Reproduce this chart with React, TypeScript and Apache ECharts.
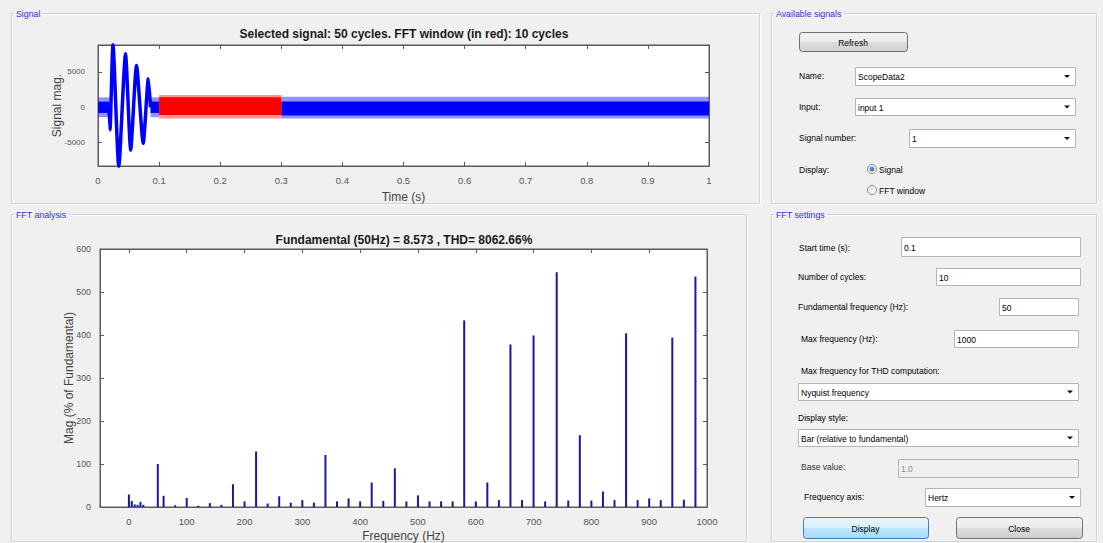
import React, { useEffect, useRef } from "react";
import * as echarts from "echarts";

// ---- Signal data ----
const transientTime = [0.018, 0.0196, 0.0245, 0.034, 0.045, 0.0535, 0.063, 0.074, 0.0824, 0.086];
const transientValue = [0, -3200, 8870, -8400, 7560, -6060, 5900, -5100, 4040, 0];
// [t0, t1, outerLow, outerHigh, innerLow, innerHigh]
const blueBands = [
  [0, 0.019, -1400, 1400, -800, 800],
  [0.086, 0.1, -1400, 1400, -800, 800],
  [0.3, 1.0, -1600, 1500, -1150, 800],
];
const redBands = [[0.1, 0.3, -1600, 1750, -1100, 1400]];

// ---- FFT data ----
const fftFreq = [0, 5, 10, 15, 20, 25, 50, 60, 80, 100, 120, 140, 160, 180, 200, 220, 240, 260, 280, 300, 320, 340, 360, 380, 400, 420, 440, 460, 480, 500, 520, 540, 560, 580, 600, 620, 640, 660, 680, 700, 720, 740, 760, 780, 800, 820, 840, 860, 880, 900, 920, 940, 960, 980];
const fftMag = [29, 14, 6, 5, 12, 5, 100, 26, 4, 21, 3, 9, 5, 53, 13, 129, 8, 25, 10, 16, 10, 121, 13, 20, 13, 57, 14, 90, 13, 27, 13, 13, 13, 434, 13, 57, 16, 378, 16, 399, 13, 546, 15, 167, 15, 36, 16, 404, 16, 20, 16, 394, 17, 536];

const signalTitle = "Selected signal: 50 cycles. FFT window (in red): 10 cycles";
const fftTitle = "Fundamental (50Hz) = 8.573 , THD= 8062.66%";

const F = "'Liberation Sans', Arial, sans-serif";
const BG = "#f0f0f0";

function txt(x: number, y: number, s: string, extra: any = {}) {
  return {
    type: "text",
    x,
    y,
    silent: true,
    style: { text: s, fontSize: 8.5, fontFamily: F, fill: "#000", verticalAlign: "middle", align: "left", ...extra },
  };
}
function panel(x: number, y: number, w: number, h: number, label: string) {
  return [
    { type: "rect", silent: true, shape: { x: x + 1.5, y: y + 1.5, width: w, height: h }, style: { fill: "none", stroke: "#ffffff", lineWidth: 1 } },
    { type: "rect", silent: true, shape: { x: x + 0.5, y: y + 0.5, width: w, height: h }, style: { fill: "none", stroke: "#d0d0d0", lineWidth: 1 } },
    {
      type: "text",
      silent: true,
      x: x + 3,
      y: y + 1,
      style: { text: label, fontSize: 8.8, fontFamily: F, fill: "#3434d8", backgroundColor: BG, padding: [0, 2], verticalAlign: "middle" },
    },
  ];
}
function box(x1: number, y1: number, x2: number, y2: number, value: string, disabled = false) {
  return [
    { type: "rect", silent: true, shape: { x: x1 + 0.5, y: y1 + 0.5, width: x2 - x1, height: y2 - y1 }, style: { fill: disabled ? "#f0f0f0" : "#ffffff", stroke: "#b5b5b5", lineWidth: 1 } },
    txt(x1 + 3, (y1 + y2) / 2 + 1, value, { fill: disabled ? "#8a8a8a" : "#000" }),
  ];
}
function combo(x1: number, y1: number, x2: number, y2: number, value: string) {
  const cy = (y1 + y2) / 2;
  return [
    ...box(x1, y1, x2, y2, value),
    { type: "polygon", silent: true, shape: { points: [[x2 - 11, cy - 1], [x2 - 5, cy - 1], [x2 - 8, cy + 2]] }, style: { fill: "#111" } },
  ];
}
function button(x1: number, y1: number, x2: number, y2: number, label: string, blue = false) {
  return [
    {
      type: "rect",
      silent: true,
      shape: { x: x1 + 0.5, y: y1 + 0.5, width: x2 - x1, height: y2 - y1, r: 3 },
      style: {
        fill: {
          type: "linear", x: 0, y: 0, x2: 0, y2: 1,
          colorStops: blue
            ? [{ offset: 0, color: "#eaf6fd" }, { offset: 0.5, color: "#d9f0fc" }, { offset: 0.51, color: "#bee6fd" }, { offset: 1, color: "#a7d9f5" }]
            : [{ offset: 0, color: "#f2f2f2" }, { offset: 0.5, color: "#ebebeb" }, { offset: 0.51, color: "#dddddd" }, { offset: 1, color: "#cfcfcf" }],
        },
        stroke: blue ? "#3c7fb1" : "#707070",
        lineWidth: 1,
      },
    },
    txt((x1 + x2) / 2, (y1 + y2) / 2 + 1, label, { align: "center" }),
  ];
}
function radio(x: number, y: number, label: string, checked: boolean) {
  const els: any[] = [
    {
      type: "circle", silent: true, shape: { cx: x, cy: y, r: 4.5 },
      style: { fill: { type: "linear", x: 0, y: 0, x2: 1, y2: 1, colorStops: [{ offset: 0, color: "#e6e6e6" }, { offset: 1, color: "#ffffff" }] }, stroke: "#8e8f8f", lineWidth: 1 },
    },
  ];
  if (checked) {
    els.push({
      type: "circle", silent: true, shape: { cx: x, cy: y, r: 2.5 },
      style: { fill: { type: "linear", x: 0, y: 0, x2: 1, y2: 1, colorStops: [{ offset: 0, color: "#7fb2e8" }, { offset: 1, color: "#1f5ba8" }] } },
    });
  }
  els.push(txt(x + 7, y + 1, label));
  return els;
}

function bandSeries(name: string, bands: number[][], outerColor: string, innerColor: string) {
  return {
    type: "custom",
    name,
    xAxisIndex: 0,
    yAxisIndex: 0,
    data: bands,
    encode: { x: [0, 1], y: [2, 3] },
    z: 3,
    renderItem: (params: any, api: any) => {
      const t0 = api.value(0), t1 = api.value(1);
      const oLo = api.value(2), oHi = api.value(3), iLo = api.value(4), iHi = api.value(5);
      const a = api.coord([t0, oHi]), b = api.coord([t1, oLo]);
      const c = api.coord([t0, iHi]), d = api.coord([t1, iLo]);
      return {
        type: "group",
        children: [
          { type: "rect", shape: { x: a[0], y: a[1], width: b[0] - a[0], height: b[1] - a[1] }, style: { fill: outerColor } },
          { type: "rect", shape: { x: c[0], y: c[1], width: d[0] - c[0], height: d[1] - c[1] }, style: { fill: innerColor } },
        ],
      };
    },
  };
}

const plain = (v: number) => String(v);
const axisCommon = {
  axisLine: { show: true, onZero: false, lineStyle: { color: "#5a5a5a", width: 1 } },
  axisTick: { show: true, inside: true, length: 4, lineStyle: { color: "#5a5a5a" } },
  splitLine: { show: false },
};
const labelStyle = { fontSize: 9.5, color: "#555", fontFamily: F, formatter: plain };
const nameStyle = { fontSize: 12, color: "#444", fontFamily: F };

export default function App() {
  const ref = useRef<HTMLDivElement>(null);
  useEffect(() => {
    if (!ref.current) return;
    const chart = echarts.init(ref.current, undefined, { renderer: "svg" });

    const graphic: any[] = [
      ...panel(11, 13, 748, 190, "Signal"),
      ...panel(771, 13, 325, 190, "Available signals"),
      ...panel(11, 214, 735, 327, "FFT analysis"),
      ...panel(771, 214, 325, 327, "FFT settings"),
      // Available signals
      ...button(799, 32, 907, 51, "Refresh"),
      txt(799, 76, "Name:"),
      ...combo(855, 67, 1075, 85, "ScopeData2"),
      txt(799, 107, "Input:"),
      ...combo(855, 98, 1075, 115, "input 1"),
      txt(799, 138, "Signal number:"),
      ...combo(909, 129, 1075, 147, "1"),
      txt(799, 170, "Display:"),
      ...radio(872, 169, "Signal", true),
      ...radio(872, 190, "FFT window", false),
      // FFT settings
      txt(799, 248, "Start time (s):"),
      ...box(901, 237, 1080, 256, "0.1"),
      txt(798, 277, "Number of cycles:"),
      ...box(936, 268, 1080, 285, "10"),
      txt(798, 307, "Fundamental frequency (Hz):"),
      ...box(999, 298, 1078, 315, "50"),
      txt(801, 339, "Max frequency (Hz):"),
      ...box(954, 330, 1078, 347, "1000"),
      txt(801, 371, "Max frequency for THD computation:"),
      ...combo(798, 383, 1078, 400, "Nyquist frequency"),
      txt(798, 418, "Display style:"),
      ...combo(798, 429, 1078, 446, "Bar (relative to fundamental)"),
      txt(801, 467, "Base value:", { fill: "#333" }),
      ...box(898, 459, 1078, 477, "1.0", true),
      txt(804, 497, "Frequency axis:"),
      ...combo(925, 488, 1080, 506, "Hertz"),
      ...button(803, 517, 928, 538, "Display", true),
      ...button(956, 517, 1082, 538, "Close"),
    ];

    const option: any = {
      animation: false,
      backgroundColor: BG,
      title: [
        { text: signalTitle, left: 404, top: 28, textAlign: "center", padding: 0, textStyle: { fontSize: 12, fontWeight: "bold", color: "#1a1a1a", fontFamily: F } },
        { text: fftTitle, left: 404, top: 234, textAlign: "center", padding: 0, textStyle: { fontSize: 12, fontWeight: "bold", color: "#1a1a1a", fontFamily: F } },
      ],
      grid: [
        { left: 98, top: 45, width: 611, height: 121, show: true, backgroundColor: "#fff", borderColor: "#5a5a5a", borderWidth: 1 },
        { left: 100, top: 249, width: 607, height: 258, show: true, backgroundColor: "#fff", borderColor: "#5a5a5a", borderWidth: 1 },
      ],
      xAxis: [
        {
          ...axisCommon, type: "value", gridIndex: 0, position: "bottom", min: 0, max: 1, interval: 0.1,
          axisLabel: { ...labelStyle, margin: 9 },
          name: "Time (s)", nameLocation: "middle", nameGap: 25, nameMoveOverlap: false, nameTextStyle: nameStyle,
        },
        { ...axisCommon, type: "value", gridIndex: 0, position: "top", min: 0, max: 1, interval: 0.1, axisLabel: { show: false } },
        {
          ...axisCommon, type: "value", gridIndex: 1, position: "bottom", min: -50, max: 1000, minInterval: 100, maxInterval: 100,
          axisLabel: { ...labelStyle, margin: 9, showMinLabel: false },
          name: "Frequency (Hz)", nameLocation: "middle", nameGap: 23, nameMoveOverlap: false, nameTextStyle: nameStyle,
        },
        { ...axisCommon, type: "value", gridIndex: 1, position: "top", min: -50, max: 1000, minInterval: 100, maxInterval: 100, axisLabel: { show: false } },
      ],
      yAxis: [
        {
          ...axisCommon, type: "value", gridIndex: 0, position: "left", min: -8300, max: 8800, minInterval: 5000, maxInterval: 5000,
          axisLabel: { ...labelStyle, fontSize: 8, margin: 13, showMinLabel: false, showMaxLabel: false },
          name: "Signal mag.", nameLocation: "middle", nameGap: 35, nameMoveOverlap: false, nameTextStyle: nameStyle,
        },
        { ...axisCommon, type: "value", gridIndex: 0, position: "right", min: -8300, max: 8800, minInterval: 5000, maxInterval: 5000, axisLabel: { show: false } },
        {
          ...axisCommon, type: "value", gridIndex: 1, position: "left", min: 0, max: 600, interval: 100,
          axisLabel: { ...labelStyle, fontSize: 8.8, margin: 9 },
          name: "Mag (% of Fundamental)", nameLocation: "middle", nameGap: 25, nameMoveOverlap: false, nameTextStyle: nameStyle,
        },
        { ...axisCommon, type: "value", gridIndex: 1, position: "right", min: 0, max: 600, interval: 100, axisLabel: { show: false } },
      ],
      series: [
        bandSeries("signal", blueBands, "rgba(40,40,255,0.5)", "#0000ff"),
        bandSeries("fft window", redBands, "rgba(255,40,40,0.5)", "#ff0000"),
        {
          type: "line",
          name: "transient",
          xAxisIndex: 0,
          yAxisIndex: 0,
          data: transientTime.map((t, i) => [t, transientValue[i]]),
          showSymbol: false,
          smooth: 0.2,
          lineStyle: { color: "#0000ff", width: 3.5 },
          z: 4,
        },
        {
          type: "bar",
          name: "FFT",
          xAxisIndex: 2,
          yAxisIndex: 2,
          data: fftFreq.map((f, i) => [f, fftMag[i]]),
          barWidth: 2,
          itemStyle: { color: "#1818a0" },
        },
      ],
      graphic,
    };
    chart.setOption(option);
    return () => chart.dispose();
  }, []);
  return <div ref={ref} style={{ position: "absolute", left: 0, top: 0, width: 1103, height: 543 }} />;
}
